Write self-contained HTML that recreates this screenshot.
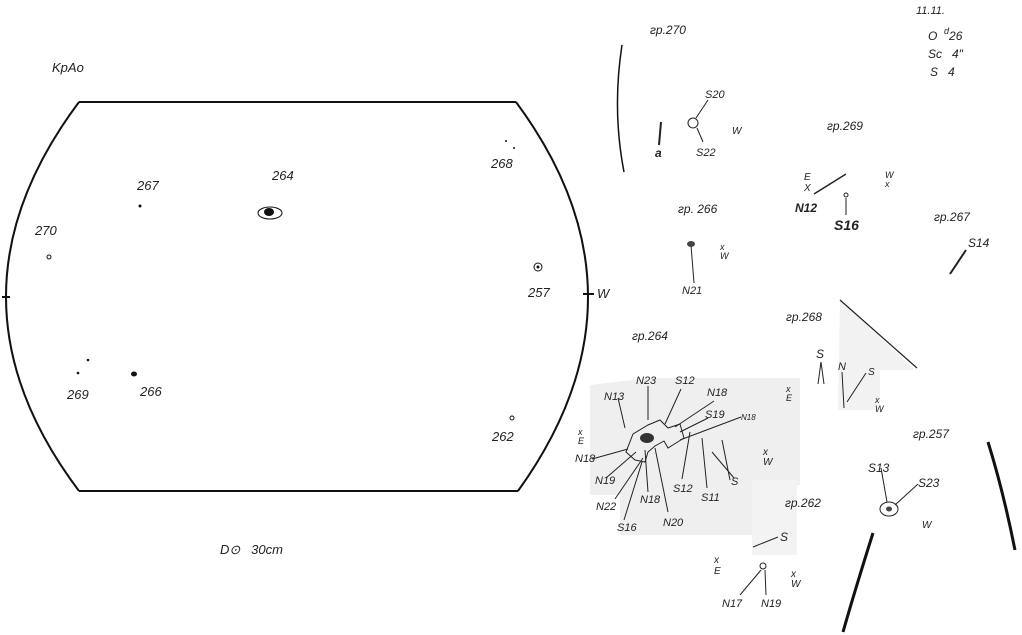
<!DOCTYPE html>
<html><head><meta charset="utf-8"><style>
html,body{margin:0;padding:0;background:#fff;width:1022px;height:635px;overflow:hidden}
svg text{font-family:"Liberation Sans",sans-serif;font-style:italic;fill:#222}
</style></head><body>
<svg width="1022" height="635" viewBox="0 0 1022 635" xmlns="http://www.w3.org/2000/svg">
<polygon points="590,385 650,378 800,378 800,485 790,485 790,535 620,535 620,495 590,495" fill="#efefef"/>
<polygon points="840,300 915,370 880,370 880,410 838,410" fill="#f2f2f2"/>
<rect x="752" y="480" width="45" height="75" fill="#f3f3f3"/>
<g fill="none" stroke="#111" stroke-width="2">
<path d="M79,102 L516,102"/>
<path d="M79,491 L518,491"/>
<path d="M79,102 Q-67,297 79,491"/>
<path d="M516,102 Q659,295 518,491"/>
<path d="M2,297 L10,297 M583,294 L594,294"/>
<path d="M622,45 Q612,110 624,172" stroke-width="1.5"/>
<path d="M988,442 Q1003,490 1015,550" stroke-width="3"/>
<path d="M873,533 Q855,590 843,632" stroke-width="3"/>
</g>
<g font-size="13">
<text x="52" y="72">KpAo</text>
<text x="137" y="190">267</text>
<text x="272" y="180">264</text>
<text x="491" y="168">268</text>
<text x="35" y="235">270</text>
<text x="528" y="297">257</text>
<text x="597" y="298" font-style="normal">W</text>
<text x="67" y="399">269</text>
<text x="140" y="396">266</text>
<text x="492" y="441">262</text>
<text x="220" y="554">D⊙ &#160; 30cm</text>
</g>
<g fill="#111">
<circle cx="140" cy="206" r="1.5"/><circle cx="49" cy="257" r="2" fill="none" stroke="#111"/>
<circle cx="88" cy="360" r="1.3"/><circle cx="78" cy="373" r="1.3"/><ellipse cx="134" cy="374" rx="3" ry="2.5"/>
<circle cx="506" cy="141" r="1"/><circle cx="514" cy="148" r="1"/>
<circle cx="538" cy="267" r="4" fill="none" stroke="#111"/><circle cx="538" cy="267" r="1.5"/>
<circle cx="512" cy="418" r="2" fill="none" stroke="#111"/>
<ellipse cx="270" cy="213" rx="12" ry="6" fill="none" stroke="#111"/><ellipse cx="269" cy="212" rx="5" ry="4"/>
</g>
<g font-size="12">
<text x="650" y="34">гр.270</text>
<text x="916" y="14" font-size="11">11.11.</text>
<text x="928" y="40">O &#160;<tspan font-size="9" dy="-6">d</tspan><tspan dy="6">26</tspan></text>
<text x="928" y="58">Sc &#160; 4"</text>
<text x="930" y="76">S &#160; 4</text>
<text x="705" y="98" font-size="11">S20</text>
<text x="732" y="134" font-size="10">W</text>
<text x="655" y="157" font-weight="bold">a</text>
<text x="696" y="156" font-size="11">S22</text>
<text x="827" y="130">гр.269</text>
<text x="804" y="180" font-size="10">E<tspan x="804" dy="11">X</tspan></text>
<text x="885" y="178" font-size="9">W<tspan x="885" dy="9">x</tspan></text>
<text x="795" y="212" font-weight="bold">N12</text>
<text x="834" y="230" font-weight="bold" font-size="14">S16</text>
<text x="678" y="213">гр. 266</text>
<text x="720" y="250" font-size="9">x<tspan x="720" dy="9">W</tspan></text>
<text x="682" y="294" font-size="11">N21</text>
<text x="934" y="221">гр.267</text>
<text x="968" y="247">S14</text>
<text x="632" y="340">гр.264</text>
<text x="786" y="321">гр.268</text>
<text x="816" y="358">S</text><text x="838" y="370" font-size="11">N</text>
<text x="868" y="375" font-size="10">S</text>
<text x="875" y="403" font-size="9">x<tspan x="875" dy="9">W</tspan></text>
<text x="913" y="438">гр.257</text>
<text x="868" y="472">S13</text><text x="918" y="487">S23</text>
<text x="922" y="528" font-size="10">W</text>
<text x="785" y="507">гр.262</text>
<text x="780" y="541">S</text>
<text x="714" y="563" font-size="10">x<tspan x="714" dy="11">E</tspan></text>
<text x="791" y="577" font-size="10">x<tspan x="791" dy="10">W</tspan></text>
<text x="722" y="607" font-size="11">N17</text><text x="761" y="607" font-size="11">N19</text>
<g font-size="11">
<text x="604" y="400">N13</text><text x="636" y="384">N23</text><text x="675" y="384">S12</text>
<text x="707" y="396">N18</text><text x="705" y="418">S19</text><text x="741" y="420" font-size="8">N18</text>
<text x="786" y="392" font-size="9">x<tspan x="786" dy="9">E</tspan></text>
<text x="578" y="435" font-size="9">x<tspan x="578" dy="9">E</tspan></text>
<text x="575" y="462">N18</text><text x="595" y="484">N19</text><text x="596" y="510">N22</text>
<text x="617" y="531">S16</text><text x="640" y="503">N18</text><text x="663" y="526">N20</text>
<text x="673" y="492">S12</text><text x="701" y="501">S11</text><text x="731" y="485">S</text>
<text x="763" y="455" font-size="10">x<tspan x="763" dy="10">W</tspan></text>
</g>
</g>
<g fill="none" stroke="#222" stroke-width="1">
<path d="M661,122 L659,145" stroke-width="2"/><circle cx="693" cy="123" r="5"/>
<path d="M696,118 L708,100 M697,128 L703,142"/>
<path d="M814,194 L846,174" stroke-width="1.5"/><path d="M846,198 L846,215"/><circle cx="846" cy="195" r="2"/>
<path d="M691,245 L694,283"/>
<path d="M950,274 L966,250" stroke-width="2"/>
<path d="M840,300 L917,368" stroke-width="1.2"/>
<path d="M821,362 L818,384 M821,362 L824,384 M842,372 L844,408 M847,402 L866,373"/>
<ellipse cx="889" cy="509" rx="9" ry="7"/><path d="M881,468 L887,502 M895,505 L918,484"/>
<path d="M753,547 L778,537"/><circle cx="763" cy="566" r="3"/><path d="M761,570 L740,595 M765,570 L766,595"/>
<path d="M633,434 L648,425 L660,420 L668,428 L680,424 L684,438 L676,443 L668,448 L664,441 L655,446 L648,452 L645,462 L635,460 L626,452 Z"/>
<path d="M618,398 L625,428 M648,386 L648,420 M681,389 L665,424 M714,401 L675,427 M708,418 L680,432 M741,417 L680,440 M592,459 L628,449 M606,478 L636,452 M615,499 L643,458 M624,520 L642,462 M648,492 L645,450 M668,512 L655,448 M682,479 L690,432 M707,488 L702,438 M734,478 L712,452 M730,480 L722,440"/>
</g>
<ellipse cx="647" cy="438" rx="7" ry="5" fill="#333"/>
<ellipse cx="691" cy="244" rx="4" ry="3" fill="#444"/>
<ellipse cx="889" cy="509" rx="3" ry="2.5" fill="#444"/>
</svg>
</body></html>
